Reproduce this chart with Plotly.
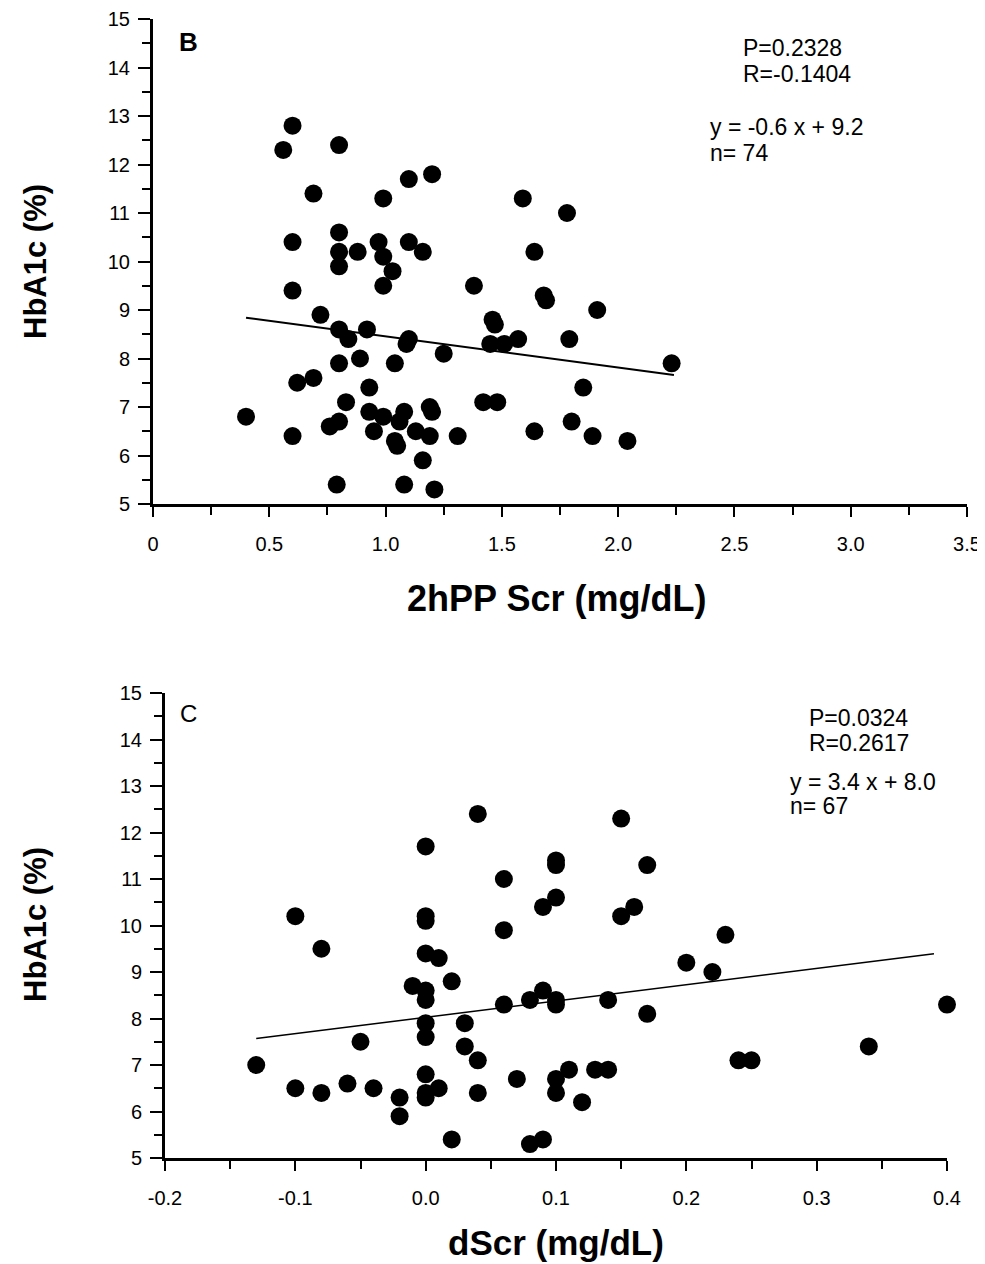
import plotly.graph_objects as go

# ---------------- data ----------------
# Panel B: 2hPP Scr vs HbA1c
b_x = [0.60, 0.56, 0.80, 0.69, 0.99, 1.10, 1.20, 1.59, 1.78,
       0.60, 0.80, 0.80, 0.88, 0.97, 0.99, 1.10, 1.16, 1.64,
       0.80, 1.03, 0.60, 0.99, 1.38, 1.68, 1.69, 1.91,
       0.72, 1.46, 1.47, 0.80, 0.92, 0.84, 1.10, 1.09, 1.45, 1.51, 1.57, 1.79,
       1.25, 0.80, 0.89, 1.04, 2.23,
       0.62, 0.69, 0.93, 1.85, 0.83, 1.42, 1.48,
       0.93, 0.99, 1.08, 1.06, 1.19, 1.20, 0.40, 0.76, 0.80, 1.80,
       0.60, 0.95, 1.04, 1.05, 1.13, 1.19, 1.31, 1.64, 1.89, 2.04,
       1.16, 0.79, 1.08, 1.21]
b_y = [12.8, 12.3, 12.4, 11.4, 11.3, 11.7, 11.8, 11.3, 11.0,
       10.4, 10.6, 10.2, 10.2, 10.4, 10.1, 10.4, 10.2, 10.2,
       9.9, 9.8, 9.4, 9.5, 9.5, 9.3, 9.2, 9.0,
       8.9, 8.8, 8.7, 8.6, 8.6, 8.4, 8.4, 8.3, 8.3, 8.3, 8.4, 8.4,
       8.1, 7.9, 8.0, 7.9, 7.9,
       7.5, 7.6, 7.4, 7.4, 7.1, 7.1, 7.1,
       6.9, 6.8, 6.9, 6.7, 7.0, 6.9, 6.8, 6.6, 6.7, 6.7,
       6.4, 6.5, 6.3, 6.2, 6.5, 6.4, 6.4, 6.5, 6.4, 6.3,
       5.9, 5.4, 5.4, 5.3]
b_fit_x = [0.40, 2.24]
b_fit_y = [8.84, 7.66]
b_xticks = [0, 0.5, 1.0, 1.5, 2.0, 2.5, 3.0, 3.5]
b_xticklabels = ["0", "0.5", "1.0", "1.5", "2.0", "2.5", "3.0", "3.5"]
b_xminor = [0.25, 0.75, 1.25, 1.75, 2.25, 2.75, 3.25]
b_stats = ["P=0.2328", "R=-0.1404", "y = -0.6 x + 9.2", "n= 74"]

# Panel C: dScr vs HbA1c
c_x = [0.04, 0.15, 0.00, 0.10, 0.10, 0.17, 0.06, 0.10, 0.09, 0.16, 0.15,
       -0.10, 0.00, 0.00, 0.06, 0.23, -0.08, 0.00, 0.01, 0.20, 0.22,
       0.02, -0.01, 0.00, 0.00, 0.09, 0.10, 0.10, 0.14, 0.06, 0.08, 0.17, 0.40,
       0.00, 0.03, 0.00, -0.05, 0.03, 0.34, 0.04, 0.24, 0.25, -0.13,
       0.00, 0.11, 0.13, 0.14, 0.07, 0.10, -0.10, -0.08, -0.06, -0.04,
       -0.02, -0.02, 0.00, 0.00, 0.01, 0.04, 0.10, 0.12, 0.02, 0.08, 0.09]
c_y = [12.4, 12.3, 11.7, 11.4, 11.3, 11.3, 11.0, 10.6, 10.4, 10.4, 10.2,
       10.2, 10.2, 10.1, 9.9, 9.8, 9.5, 9.4, 9.3, 9.2, 9.0,
       8.8, 8.7, 8.6, 8.4, 8.6, 8.4, 8.3, 8.4, 8.3, 8.4, 8.1, 8.3,
       7.9, 7.9, 7.6, 7.5, 7.4, 7.4, 7.1, 7.1, 7.1, 7.0,
       6.8, 6.9, 6.9, 6.9, 6.7, 6.7, 6.5, 6.4, 6.6, 6.5,
       6.3, 5.9, 6.4, 6.3, 6.5, 6.4, 6.4, 6.2, 5.4, 5.3, 5.4]
c_fit_x = [-0.13, 0.39]
c_fit_y = [7.57, 9.39]
c_xticks = [-0.2, -0.1, 0.0, 0.1, 0.2, 0.3, 0.4]
c_xticklabels = ["-0.2", "-0.1", "0.0", "0.1", "0.2", "0.3", "0.4"]
c_xminor = [-0.15, -0.05, 0.05, 0.15, 0.25, 0.35]
c_stats = ["P=0.0324", "R=0.2617", "y = 3.4 x + 8.0", "n= 67"]

y_ticks = list(range(5, 16))
y_minor = [5.5, 6.5, 7.5, 8.5, 9.5, 10.5, 11.5, 12.5, 13.5, 14.5]

# ---------------- layout helpers ----------------
OFF = 8  # page body margin
W, H = 985 - OFF, 1264 - OFF
def fx(px):
    return (px - OFF) / W
def fy(py):
    return 1 - (py - OFF) / H

FONT = "Liberation Sans, Arial, sans-serif"

fig = go.Figure()
fig.add_trace(go.Scatter(x=b_x, y=b_y, mode="markers", xaxis="x", yaxis="y",
                         marker=dict(color="black", size=18, line=dict(width=0)),
                         showlegend=False, cliponaxis=False))
fig.add_trace(go.Scatter(x=b_fit_x, y=b_fit_y, mode="lines", xaxis="x", yaxis="y",
                         line=dict(color="black", width=2), showlegend=False))
fig.add_trace(go.Scatter(x=c_x, y=c_y, mode="markers", xaxis="x2", yaxis="y2",
                         marker=dict(color="black", size=18, line=dict(width=0)),
                         showlegend=False, cliponaxis=False))
fig.add_trace(go.Scatter(x=c_fit_x, y=c_fit_y, mode="lines", xaxis="x2", yaxis="y2",
                         line=dict(color="black", width=1.5), showlegend=False))

def xaxis_cfg(dom, rng, tv, tt, minor):
    return dict(domain=dom, range=rng, tickmode="array", tickvals=tv, ticktext=tt,
                showline=True, linecolor="black", linewidth=3, mirror=False,
                showgrid=False, zeroline=False, ticks="outside", ticklen=10,
                tickwidth=2, tickcolor="black", ticklabelstandoff=10,
                ticklabeloverflow="allow",
                tickfont=dict(family=FONT, size=20, color="black"),
                minor=dict(tickmode="array", tickvals=minor, ticks="outside",
                           ticklen=8, tickwidth=2, tickcolor="black", showgrid=False),
                automargin=False, fixedrange=True)

def yaxis_cfg(dom, anchor):
    return dict(domain=dom, range=[5, 15], tickmode="array", tickvals=y_ticks,
                anchor=anchor,
                showline=True, linecolor="black", linewidth=3, mirror=False,
                showgrid=False, zeroline=False, ticks="outside", ticklen=12,
                tickwidth=2, tickcolor="black", ticklabelstandoff=4,
                ticklabeloverflow="allow",
                tickfont=dict(family=FONT, size=20, color="black"),
                minor=dict(tickmode="array", tickvals=y_minor, ticks="outside",
                           ticklen=8, tickwidth=2, tickcolor="black", showgrid=False),
                automargin=False, fixedrange=True)

fig.update_layout(
    width=W, height=H,
    margin=dict(l=0, r=0, t=0, b=0),
    paper_bgcolor="white", plot_bgcolor="white",
    font=dict(family=FONT, color="black"),
    xaxis=xaxis_cfg([fx(153), fx(967)], [0, 3.5], b_xticks, b_xticklabels, b_xminor) | dict(anchor="y"),
    yaxis=yaxis_cfg([fy(504), fy(19)], "x"),
    xaxis2=xaxis_cfg([fx(165), fx(947)], [-0.2, 0.4], c_xticks, c_xticklabels, c_xminor) | dict(anchor="y2"),
    yaxis2=yaxis_cfg([fy(1158), fy(693)], "x2"),
)

ann = []
def text(s, x, y, size, bold=False, xanchor="left", angle=0):
    ann.append(dict(text=s, x=fx(x), y=fy(y), xref="paper", yref="paper",
                    xanchor=xanchor, yanchor="middle", showarrow=False, textangle=angle,
                    font=dict(family=FONT, size=size, color="black",
                              weight="bold" if bold else "normal")))

# axis titles
text("2hPP Scr (mg/dL)", 556, 598, 36, bold=True, xanchor="center")
text("dScr (mg/dL)", 556, 1242, 35, bold=True, xanchor="center")
text("HbA1c (%)", 35, 262, 31, bold=True, xanchor="center", angle=-90)
text("HbA1c (%)", 35, 925, 31, bold=True, xanchor="center", angle=-90)

# panel letters
text("B", 177, 42, 26, bold=True)
text("C", 178, 713, 24)

# stats panel B
text(b_stats[0], 741, 48, 23)
text(b_stats[1], 741, 74, 23)
text(b_stats[2], 708, 127, 23)
text(b_stats[3], 708, 153, 23)
# stats panel C
text(c_stats[0], 807, 718, 23)
text(c_stats[1], 807, 743, 23)
text(c_stats[2], 788, 782, 23)
text(c_stats[3], 788, 806, 23)

fig.update_layout(annotations=ann)
fig.write_html("out.html")
